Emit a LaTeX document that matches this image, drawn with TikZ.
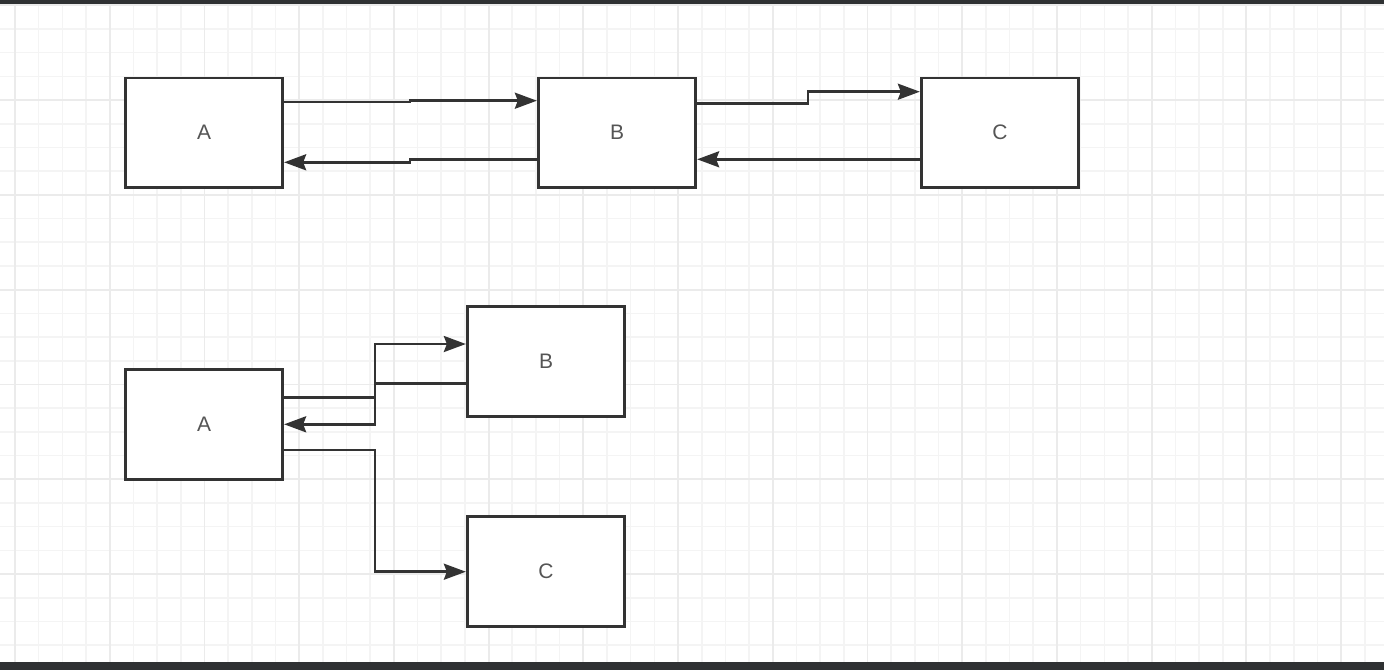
\documentclass[tikz,border=0pt]{standalone}
\usepackage{fontspec}
\setmainfont{Liberation Sans}
\usetikzlibrary{arrows.meta}
\definecolor{linegray}{HTML}{333333}
\definecolor{labelgray}{HTML}{555555}
\definecolor{gridminor}{HTML}{F4F4F4}
\definecolor{gridmajor}{HTML}{EBEBEB}
\definecolor{barcolor}{HTML}{2F3133}

\begin{document}
\begin{tikzpicture}[
    x=0.5pt, y=-0.5pt,
    box/.style={draw=linegray, line width=1.4pt, fill=white, minimum width=78.75pt, minimum height=54.7pt, inner sep=0pt, font=\fontsize{10.5}{12}\selectfont, text=labelgray},
    arr/.style={draw=linegray, line width=1.3pt, -{Stealth[length=11pt,width=8pt,inset=1.5pt]}},
    minorline/.style={draw=gridminor, line width=0.8pt},
    majorline/.style={draw=gridmajor, line width=0.9pt}
]
\useasboundingbox (0,0) rectangle (1384,670);
\fill[white] (0,0) rectangle (1384,670);

% grid
\foreach \i in {0,...,58} \draw[minorline] ({15+\i*23.68},4) -- ({15+\i*23.68},662);
\foreach \j in {0,...,27} \draw[minorline] (0,{5.2+\j*23.7}) -- (1384,{5.2+\j*23.7});
\foreach \i in {0,...,14} \draw[majorline] ({15+\i*94.72},4) -- ({15+\i*94.72},662);
\foreach \j in {0,...,6} \draw[majorline] (0,{5.2+\j*94.8}) -- (1384,{5.2+\j*94.8});
\fill[barcolor] (0,0) rectangle (1384,4);
\fill[barcolor] (0,662) rectangle (1384,670);

% chain
\node[box] (topA) at (204,132.7) {A};
\node[box] (topB) at (617,132.7) {B};
\node[box] (topC) at (1000,132.7) {C};

\draw[arr] (topA.east |- 0,102) -- (410,102) |- (topB.west |- 0,100.7);
\draw[arr] (topB.west |- 0,159.3) -- (410,159.3) |- (topA.east |- 0,162.3);
\draw[arr] (topB.east |- 0,103.3) -- (808,103.3) |- (topC.west |- 0,91.7);
\draw[arr] (topC.west |- 0,159.3) -- (topB.east |- 0,159.3);

% fan out
\node[box] (botA) at (204,424.5) {A};
\node[box] (botB) at (546,361.5) {B};
\node[box] (botC) at (546,571.5) {C};

\draw[arr] (botA.east |- 0,397.7) -- (375,397.7) |- (botB.west |- 0,344);
\draw[arr] (botB.west |- 0,383.3) -- (375,383.3) |- (botA.east |- 0,424.3);
\draw[arr] (botA.east |- 0,450) -- (375,450) |- (botC.west |- 0,571.7);
\end{tikzpicture}
\end{document}
